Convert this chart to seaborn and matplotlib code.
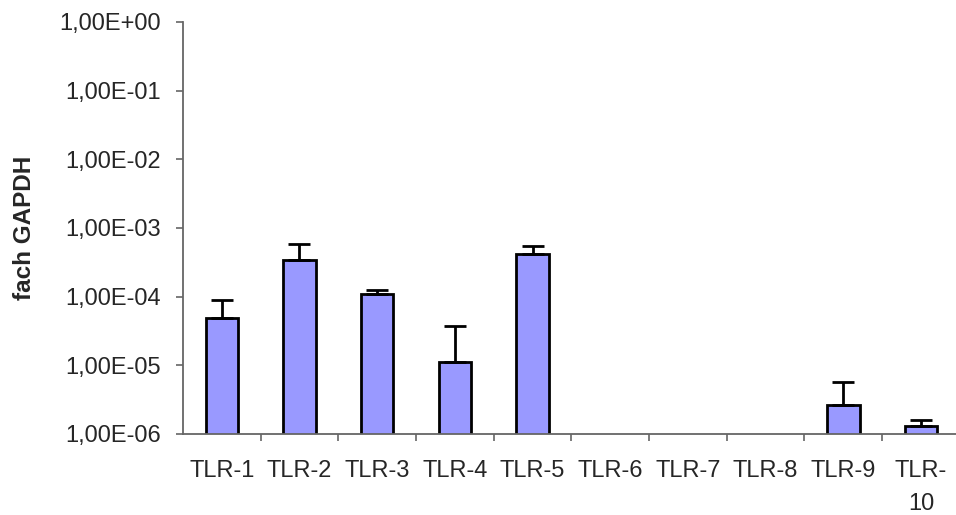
import numpy as np
import pandas as pd
import seaborn as sns
import matplotlib.pyplot as plt
from matplotlib.ticker import FixedLocator, FuncFormatter

# data
receptors = ["TLR-1", "TLR-2", "TLR-3", "TLR-4", "TLR-5",
             "TLR-6", "TLR-7", "TLR-8", "TLR-9", "TLR-10"]
tick_labels = ["TLR-1", "TLR-2", "TLR-3", "TLR-4", "TLR-5",
               "TLR-6", "TLR-7", "TLR-8", "TLR-9", "TLR-\n10"]
expression = [4.9e-5, 3.4e-4, 1.10e-4, 1.12e-5, 4.25e-4,
              np.nan, np.nan, np.nan, 2.6e-6, 1.32e-6]
error_upper = [4.0e-5, 2.45e-4, 1.5e-5, 2.6e-5, 1.27e-4,
               np.nan, np.nan, np.nan, 3.1e-6, 0.29e-6]
y_ticks = [1e-6, 1e-5, 1e-4, 1e-3, 1e-2, 1e-1, 1e0]

df = pd.DataFrame({"receptor": receptors, "value": expression})

sns.set_style("white")
plt.rcParams['font.family'] = ['Liberation Sans', 'DejaVu Sans']

fig = plt.figure(figsize=(9.56, 5.15), dpi=100)
ax = fig.add_axes([0.1914, 0.1573, 0.8125, 0.8000])
ax.set_yscale('log')

sns.barplot(data=df, x="receptor", y="value", ax=ax, color="#9999FF",
            saturation=1, width=0.42, edgecolor="black", linewidth=2,
            errorbar=None)

xpos = np.arange(len(receptors))
lower = np.zeros(len(receptors))
ax.errorbar(xpos, expression, yerr=[lower, error_upper], fmt='none',
            ecolor='black', elinewidth=2, capsize=8, capthick=2, zorder=1)

ax.set_ylim(1e-6, 1e0)
ax.set_xlim(-0.5, len(receptors) - 0.5)

def sci_comma(v, pos):
    s = f"{v:.2E}"
    return s.replace('.', ',')

ax.yaxis.set_major_locator(FixedLocator(y_ticks))
ax.yaxis.set_major_formatter(FuncFormatter(sci_comma))
ax.yaxis.set_minor_locator(FixedLocator([]))

ax.set_xticks(xpos)
ax.set_xticklabels(tick_labels)
for lbl in ax.get_xticklabels():
    lbl.set_linespacing(1.6)
ax.set_xticks(xpos[1:] - 0.5, minor=True)
ax.tick_params(axis='x', which='major', length=0, pad=19, labelsize=17)
ax.tick_params(axis='x', which='minor', length=5, width=1.2, color='#666666',
               direction='out', bottom=True)
ax.tick_params(axis='y', which='major', length=5, width=1.2, color='#666666',
               direction='out', left=True, pad=11, labelsize=17)

for side in ['top', 'right']:
    ax.spines[side].set_visible(False)
for side in ['left', 'bottom']:
    ax.spines[side].set_color('#666666')
    ax.spines[side].set_linewidth(1.3)

ax.set_xlabel("")
ax.set_ylabel("fach GAPDH", fontsize=17.5, fontweight='bold')
ax.yaxis.set_label_coords(-0.189, 0.5)

fig.savefig("out.png", dpi=100)
